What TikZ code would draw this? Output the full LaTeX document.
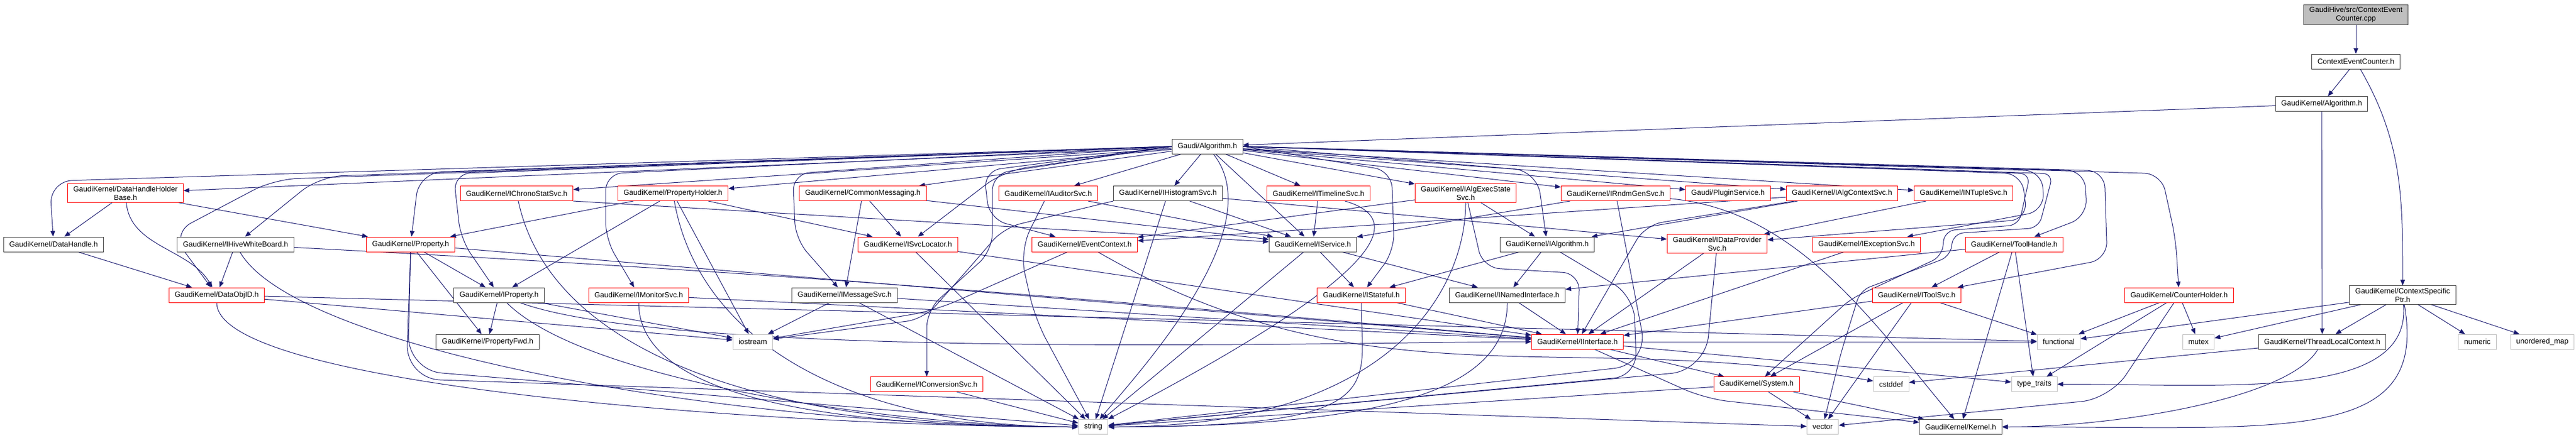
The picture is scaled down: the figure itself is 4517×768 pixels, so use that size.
\documentclass[tikz,border=0pt]{standalone}
\usepackage{fontspec}
\setmainfont{Liberation Sans}
\usetikzlibrary{arrows.meta}
\definecolor{depblue}{HTML}{191970}
\definecolor{sysgray}{HTML}{BFBFBF}
\pgfdeclarelayer{edges}
\pgfsetlayers{edges,main}
\tikzset{
  hdr/.style={draw,fill=white,line width=1pt,inner xsep=10pt,inner ysep=4pt,minimum height=26pt,align=center,font=\fontsize{13}{15}\selectfont},
  nb/.style={hdr,draw=black!75},
  nr/.style={hdr,draw=red},
  ns/.style={hdr,draw=sysgray},
  srcbox/.style={hdr,draw=black!75,fill=sysgray},
  dep/.style={draw=depblue,line width=1pt,-{Triangle[length=10pt,width=8pt]}}
}
\begin{document}
\begin{tikzpicture}[x=1pt,y=1pt]
\useasboundingbox (0,0) rectangle (4517,-768);
\node[srcbox] (cpp) at (4131,-26) {GaudiHive/src/ContextEvent\\Counter.cpp};
\node[nb] (ceh) at (4131,-108) {ContextEventCounter.h};
\node[nb] (kalg) at (4071,-182.5) {GaudiKernel/Algorithm.h};
\node[nb] (galg) at (2117,-257) {Gaudi/Algorithm.h};

\node[nr] (dhhb) at (220,-339) {GaudiKernel/DataHandleHolder\\Base.h};
\node[nr] (chrono) at (906,-339.5) {GaudiKernel/IChronoStatSvc.h};
\node[nr] (propholder) at (1180,-339.5) {GaudiKernel/PropertyHolder.h};
\node[nr] (commsg) at (1513,-339.5) {GaudiKernel/CommonMessaging.h};
\node[nr] (auditor) at (1838,-339.5) {GaudiKernel/IAuditorSvc.h};
\node[nb] (histo) at (2048,-339.5) {GaudiKernel/IHistogramSvc.h};
\node[nr] (timeline) at (2312,-339.5) {GaudiKernel/ITimelineSvc.h};
\node[nr] (execstate) at (2570,-339) {GaudiKernel/IAlgExecState\\Svc.h};
\node[nr] (rndm) at (2833,-339.5) {GaudiKernel/IRndmGenSvc.h};
\node[nr] (plugin) at (3030,-339.5) {Gaudi/PluginService.h};
\node[nr] (algctx) at (3230,-339.5) {GaudiKernel/IAlgContextSvc.h};
\node[nr] (ntuple) at (3443,-339.5) {GaudiKernel/INTupleSvc.h};

\node[nb] (dhandle) at (94,-429) {GaudiKernel/DataHandle.h};
\node[nb] (whiteboard) at (413,-429) {GaudiKernel/IHiveWhiteBoard.h};
\node[nr] (prop) at (720,-429) {GaudiKernel/Property.h};
\node[nr] (svcloc) at (1592,-429) {GaudiKernel/ISvcLocator.h};
\node[nr] (evtctx) at (1902,-429) {GaudiKernel/EventContext.h};
\node[nb] (iservice) at (2302,-429) {GaudiKernel/IService.h};
\node[nb] (ialg) at (2713,-429) {GaudiKernel/IAlgorithm.h};
\node[nr] (dataprov) at (3011,-428) {GaudiKernel/IDataProvider\\Svc.h};
\node[nr] (except) at (3273,-429) {GaudiKernel/IExceptionSvc.h};
\node[nr] (toolhandle) at (3532,-429) {GaudiKernel/ToolHandle.h};

\node[nr] (objid) at (380,-518) {GaudiKernel/DataObjID.h};
\node[nb] (iprop) at (875,-518) {GaudiKernel/IProperty.h};
\node[nr] (monitor) at (1120,-518) {GaudiKernel/IMonitorSvc.h};
\node[nb] (msgsvc) at (1481,-518) {GaudiKernel/IMessageSvc.h};
\node[nr] (stateful) at (2387,-518) {GaudiKernel/IStateful.h};
\node[nb] (named) at (2643,-518) {GaudiKernel/INamedInterface.h};
\node[nr] (toolsvc) at (3361,-518) {GaudiKernel/IToolSvc.h};
\node[nr] (counter) at (3821,-518) {GaudiKernel/CounterHolder.h};
\node[nb] (ctxptr) at (4213,-518) {GaudiKernel/ContextSpecific\\Ptr.h};

\node[nb] (propfwd) at (855,-600) {GaudiKernel/PropertyFwd.h};
\node[ns] (iostream) at (1320,-600) {iostream};
\node[nr] (iface) at (2766,-600) {GaudiKernel/IInterface.h};
\node[ns] (functional) at (3610,-600) {functional};
\node[ns] (mutex) at (3855,-600) {mutex};
\node[nb] (tlctx) at (4072,-600) {GaudiKernel/ThreadLocalContext.h};
\node[ns] (numeric) at (4344,-600) {numeric};
\node[ns] (umap) at (4458,-600) {unordered\_map};

\node[nr] (convsvc) at (1625,-674.5) {GaudiKernel/IConversionSvc.h};
\node[nr] (system) at (3080,-674.5) {GaudiKernel/System.h};
\node[ns] (cstddef) at (3316,-674.5) {cstddef};
\node[ns] (typetraits) at (3567,-674.5) {type\_traits};

\node[ns] (string) at (1917,-749.5) {string};
\node[ns] (vector) at (3196,-749.5) {vector};
\node[nb] (kernel) at (3438,-749.5) {GaudiKernel/Kernel.h};

\begin{pgfonlayer}{edges}
\draw[dep] (cpp) -- (ceh);
\draw[dep] (ceh) -- (kalg);
\draw[dep] (ceh.-60) .. controls +(-60:150) and +(0,150) .. (ctxptr.north);
\draw[dep] (kalg) -- (galg);
\draw[dep] (kalg) -- (tlctx);

\foreach \t in {dhhb,chrono,propholder,commsg,auditor,histo,iservice,timeline,execstate,rndm,plugin,algctx,ntuple}
  \draw[dep] (galg) -- (\t);
\draw[dep,rounded corners=40pt] (galg.west) -- (87,-318) -- (dhandle);
\draw[dep,rounded corners=40pt] (galg.west) -- (560,-310) -- (whiteboard);
\draw[dep,rounded corners=40pt] (galg.west) -- (735,-303) -- (prop);
\draw[dep,rounded corners=40pt] (galg.west) -- (480,-315) -- (300,-410) -- (objid);
\draw[dep,rounded corners=30pt] (galg.west) -- (795,-305) -- (808,-420) -- (iprop);
\draw[dep,rounded corners=30pt] (galg.west) -- (1062,-305) -- (1062,-420) -- (monitor);
\draw[dep,rounded corners=30pt] (galg.west) -- (1390,-305) -- (1395,-420) -- (msgsvc);
\draw[dep,rounded corners=40pt] (galg.west) -- (1760,-300) -- (svcloc);
\draw[dep,rounded corners=30pt] (galg.west) -- (1725,-300) -- (1735,-385) -- (evtctx);
\draw[dep,rounded corners=30pt] (galg.west) -- (1740,-305) -- (1740,-440) -- (1625,-545) -- (convsvc);
\draw[dep,rounded corners=30pt] (galg.east) -- (2440,-300) -- (2445,-440) -- (stateful);
\draw[dep,rounded corners=40pt] (galg.east) -- (2695,-300) -- (ialg);
\draw[dep,rounded corners=30pt] (galg.east) -- (3545,-305) -- (3555,-385) -- (dataprov);
\draw[dep,rounded corners=30pt] (galg.east) -- (3580,-300) -- (3585,-370) -- (except);
\draw[dep,rounded corners=30pt] (galg.east) -- (3655,-300) -- (3660,-380) -- (toolhandle);
\draw[dep,rounded corners=30pt] (galg.east) -- (3690,-300) -- (3695,-455) -- (toolsvc);
\draw[dep,rounded corners=30pt] (galg.east) -- (3790,-305) -- (3815,-420) -- (counter);
\draw[dep,rounded corners=18pt] (galg.east) -- (3560,-305) -- (3540,-395) -- (3410,-405) -- (3405,-450) -- (3245,-525) -- (system);
\draw[dep,rounded corners=18pt] (galg.east) -- (3600,-305) -- (3575,-400) -- (3425,-410) -- (3420,-450) -- (3262,-510) -- (3228,-620) -- (vector);
\draw[dep] (galg) .. controls (2230,-400) and (2000,-650) .. (string);

\draw[dep] (dhhb) -- (dhandle);
\draw[dep] (dhhb.-85) .. controls +(-85:78) and +(120:78) .. (objid.120);
\draw[dep] (dhhb) -- (prop);
\draw[dep] (dhandle) -- (objid);
\draw[dep] (whiteboard) -- (objid);
\draw[dep] (whiteboard.-3) .. controls +(-3:880) and +(175:880) .. (iface.175);
\draw[dep] (whiteboard.-60) .. controls +(-60:200) and +(-600,0) .. (string.west);
\draw[dep] (objid) -- (iostream);
\draw[dep] (objid) -- (functional);
\draw[dep] (objid.south) .. controls +(0,-150) and +(-500,0) .. (string.west);
\draw[dep] (prop) -- (iprop);
\draw[dep] (prop) -- (propfwd);
\draw[dep] (prop) -- (iface);
\draw[dep,rounded corners=60pt] (prop.south) -- (715,-650) -- (string);
\draw[dep,rounded corners=60pt] (prop.south) -- (712,-665) -- (vector);
\draw[dep] (chrono.south east) -- (iservice);
\draw[dep] (chrono.-78) .. controls +(-78:250) and +(-600,0) .. (string.west);
\draw[dep] (propholder) -- (prop);
\draw[dep] (propholder) -- (iprop);
\draw[dep] (propholder) -- (iostream);
\draw[dep] (propholder) -- (svcloc);
\draw[dep] (propholder.-80) .. controls +(-80:250) and +(-400,0) .. (string.west);
\draw[dep] (commsg) -- (svcloc);
\draw[dep] (commsg) -- (msgsvc);
\draw[dep] (commsg) -- (iservice);
\draw[dep] (auditor) -- (iservice);
\draw[dep,rounded corners=40pt] (auditor) -- (1788,-440) -- (1815,-560) -- (string);
\draw[dep] (histo) -- (string);
\draw[dep] (histo) -- (iservice);
\draw[dep] (histo) -- (dataprov);
\draw[dep,rounded corners=30pt] (histo.south west) -- (1760,-400) -- (1700,-470) -- (1620,-560) -- (iostream);
\draw[dep] (iprop) -- (propfwd);
\draw[dep] (iprop) -- (iostream);
\draw[dep] (iprop.-45) .. controls +(-45:200) and +(-300,0) .. (string.west);
\draw[dep] (iprop.-20) .. controls +(-20:300) and +(-300,0) .. (iface.west);
\draw[dep] (monitor) -- (iface);
\draw[dep] (monitor.south) .. controls +(0,-150) and +(-500,0) .. (string.west);
\draw[dep] (msgsvc) -- (iostream);
\draw[dep] (msgsvc) -- (string);
\draw[dep] (msgsvc) -- (iface);
\draw[dep] (svcloc) -- (string);
\draw[dep] (svcloc) -- (iface);
\draw[dep,rounded corners=40pt] (evtctx) -- (1640,-545) -- (iostream);
\draw[dep] (evtctx.-30) .. controls +(-30:550) and +(170:550) .. (cstddef.170);
\draw[dep] (convsvc) -- (string);
\draw[dep] (iservice) -- (named);
\draw[dep] (iservice) -- (stateful);
\draw[dep] (iservice) -- (string);
\draw[dep] (timeline) -- (iservice);
\draw[dep] (timeline) .. controls (2520,-400) and (2280,-560) .. (string);
\draw[dep] (execstate) -- (ialg);
\draw[dep] (execstate) -- (evtctx);
\draw[dep] (execstate.south) .. controls +(0,-150) and +(500,0) .. (string.east);
\draw[dep,rounded corners=30pt] (execstate) -- (2600,-470) -- (2770,-480) -- (iface);
\draw[dep] (rndm) -- (iservice);
\draw[dep,rounded corners=60pt] (rndm) -- (2890,-640) -- (string);
\draw[dep] (rndm) .. controls (3150,-370) and (3280,-560) .. (kernel);
\draw[dep] (algctx) -- (ialg);
\draw[dep] (algctx) -- (evtctx);
\draw[dep,rounded corners=30pt] (algctx) -- (2885,-395) -- (iface);
\draw[dep] (ntuple) -- (dataprov);
\draw[dep] (ialg) -- (named);
\draw[dep] (ialg) -- (stateful);
\draw[dep,rounded corners=40pt] (ialg) -- (2865,-520) -- (2870,-660) -- (string);
\draw[dep] (dataprov) -- (iface);
\draw[dep,rounded corners=60pt] (dataprov) -- (2990,-650) -- (string);
\draw[dep] (except) -- (iface);
\draw[dep] (toolhandle) -- (toolsvc);
\draw[dep] (toolhandle) -- (named);
\draw[dep] (toolhandle) -- (typetraits);
\draw[dep] (toolhandle) -- (kernel);
\draw[dep] (toolsvc) -- (functional);
\draw[dep] (toolsvc) -- (system);
\draw[dep] (toolsvc) -- (vector);
\draw[dep] (toolsvc) -- (iface);
\draw[dep] (stateful) -- (iface);
\draw[dep] (stateful.south) .. controls +(0,-150) and +(500,0) .. (string.east);
\draw[dep] (named) -- (iface);
\draw[dep] (named.south) .. controls +(0,-150) and +(500,0) .. (string.east);
\draw[dep] (iface) -- (system);
\draw[dep,rounded corners=40pt] (iface) -- (2990,-700) -- (kernel);
\draw[dep] (iface) -- (typetraits);
\draw[dep] (iface) -- (functional);
\draw[dep] (system) -- (vector);
\draw[dep] (system) -- (kernel);
\draw[dep] (system) -- (string);
\draw[dep] (counter) -- (mutex);
\draw[dep] (counter) -- (functional);
\draw[dep] (counter) -- (typetraits);
\draw[dep,rounded corners=50pt] (counter) -- (3700,-700) -- (vector);
\draw[dep] (ctxptr) -- (mutex);
\draw[dep] (ctxptr) -- (tlctx);
\draw[dep] (ctxptr) -- (numeric);
\draw[dep] (ctxptr) -- (umap);
\draw[dep] (ctxptr) -- (functional);
\draw[dep] (ctxptr.-85) .. controls +(-85:170) and +(300,0) .. (typetraits.east);
\draw[dep] (ctxptr.-80) .. controls +(-80:250) and +(500,0) .. (kernel.east);
\draw[dep] (tlctx.-120) .. controls +(-120:100) and +(200,0) .. (kernel.east);
\draw[dep] (tlctx) -- (cstddef);
\end{pgfonlayer}
\end{tikzpicture}
\end{document}
